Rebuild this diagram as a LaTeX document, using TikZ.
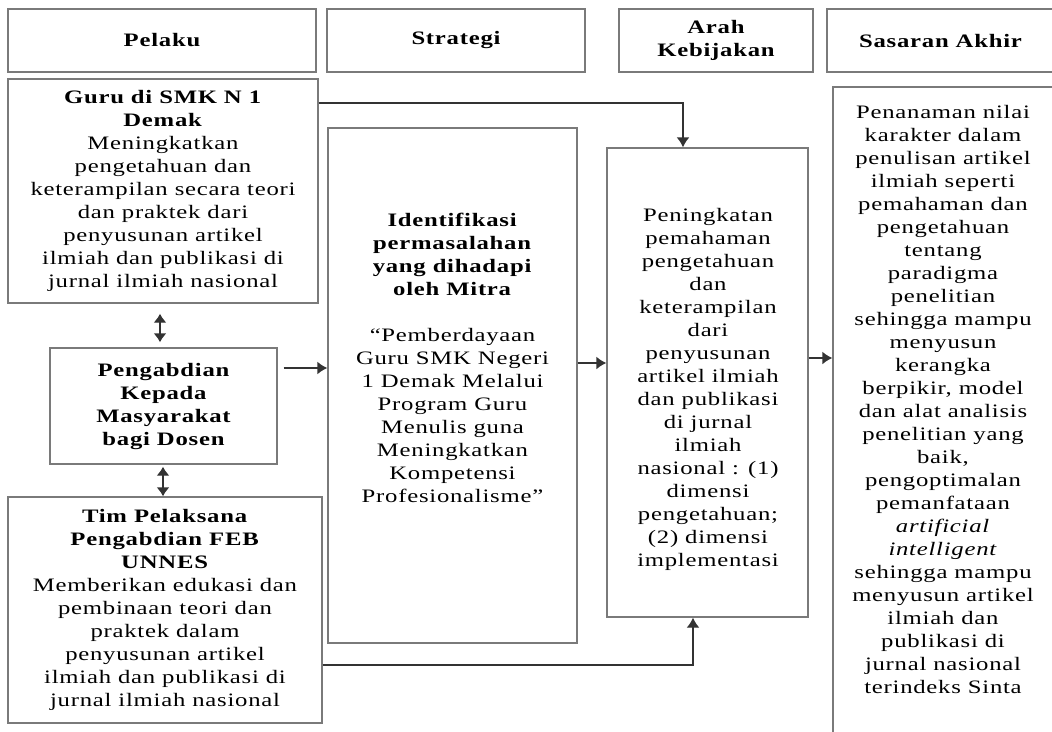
\documentclass[tikz,border=0pt]{standalone}
\usepackage{fontspec}
\setmainfont{Liberation Serif}[FakeStretch=1.3,LetterSpace=4]
\usetikzlibrary{arrows.meta}
\definecolor{boxgray}{HTML}{7A7A7A}
\newcommand\fsz{\fontsize{19}{23}\selectfont}
\begin{document}
\begin{tikzpicture}[x=1pt,y=-1pt,
  box/.style={draw=boxgray, line width=1.4pt, fill=white, inner sep=0pt, align=center, font=\fsz},
  hbox/.style={box, minimum height=63pt, font={\fsz\bfseries}},
  txt/.style={inner sep=0pt, align=center, font=\fsz},
  conn/.style={draw=black!80, line width=1.4pt},
  tip/.style={-{Latex[length=10pt,width=13pt]}},
  dtip/.style={{Latex[length=9pt,width=13pt]}-{Latex[length=9pt,width=13pt]}}
]
\useasboundingbox (0,0) rectangle (1052,731);
\clip (0,0) rectangle (1052,731);
\fill[white] (0,0) rectangle (1052,731);

% headers
\node[hbox, minimum width=308pt] (hpel) at (162,40.5) {Pelaku};
\node[hbox, minimum width=258pt] (hstr) at (456,40.5) {Strategi};
\node[hbox, minimum width=194pt] (harah) at (716,40.5) {Arah\\Kebijakan};
\node[hbox, minimum width=227pt] (hsas) at (940.5,40.5) {Sasaran Akhir};

% Pelaku column
\node[box, minimum width=310pt, minimum height=224pt] (guru) at (163,191)
  {\textbf{Guru di SMK N 1}\\\textbf{Demak}\\Meningkatkan\\pengetahuan dan\\keterampilan secara teori\\dan praktek dari\\penyusunan artikel\\ilmiah dan publikasi di\\jurnal ilmiah nasional};
\node[box, minimum width=227pt, minimum height=116pt, font={\fsz\bfseries}] (peng) at (163.5,406)
  {Pengabdian\\Kepada\\Masyarakat\\bagi Dosen};
\node[box, minimum width=314pt, minimum height=226pt] (tim) at (165,610)
  {\textbf{Tim Pelaksana}\\\textbf{Pengabdian FEB}\\\textbf{UNNES}\\Memberikan edukasi dan\\pembinaan teori dan\\praktek dalam\\penyusunan artikel\\ilmiah dan publikasi di\\jurnal ilmiah nasional};

% Strategi
\node[box, minimum width=249pt, minimum height=515pt] (ident) at (452.5,385.5) {};
\node[txt] (identtxt) at (452.5,357.5)
  {\textbf{Identifikasi}\\\textbf{permasalahan}\\\textbf{yang dihadapi}\\\textbf{oleh Mitra}\\[23pt]
   “Pemberdayaan\\Guru SMK Negeri\\1 Demak Melalui\\Program Guru\\Menulis guna\\Meningkatkan\\Kompetensi\\Profesionalisme”};

% Arah Kebijakan
\node[box, minimum width=201pt, minimum height=469pt] (pen) at (707.5,382.5) {};
\node[txt] (pentxt) at (708,389)
  {Peningkatan\\pemahaman\\pengetahuan\\dan\\keterampilan\\dari\\penyusunan\\artikel ilmiah\\dan publikasi\\di jurnal\\ilmiah\\nasional : (1)\\dimensi\\pengetahuan;\\(2) dimensi\\implementasi};

% Sasaran Akhir
\node[box, minimum width=223pt, minimum height=658pt] (sas) at (944.5,416) {};
\node[txt] (sastxt) at (943,399)
  {Penanaman nilai\\karakter dalam\\penulisan artikel\\ilmiah seperti\\pemahaman dan\\pengetahuan\\tentang\\paradigma\\penelitian\\sehingga mampu\\menyusun\\kerangka\\berpikir, model\\dan alat analisis\\penelitian yang\\baik,\\pengoptimalan\\pemanfataan\\\textit{artificial}\\\textit{intelligent}\\sehingga mampu\\menyusun artikel\\ilmiah dan\\publikasi di\\jurnal nasional\\terindeks Sinta};

% connectors
\coordinate (g1) at (683,103);
\draw[conn,tip] (guru.east |- g1) -| (g1 |- pen.north);
\coordinate (t1) at (693,665);
\draw[conn,tip] (tim.east |- t1) -| (t1 |- pen.south);
\coordinate (p1) at (0,368);
\draw[conn,tip,shorten <=6pt] (peng.east |- p1) -- (ident.west |- p1);
\coordinate (i1) at (0,363);
\draw[conn,tip] (ident.east |- i1) -- (pen.west |- i1);
\coordinate (s1) at (0,358);
\draw[conn,tip] (pen.east |- s1) -- (sas.west |- s1);
\coordinate (d1) at (160,0);
\draw[conn,dtip,shorten <=10pt,shorten >=5pt] (d1 |- guru.south) -- (d1 |- peng.north);
\coordinate (d2) at (163,0);
\draw[conn,dtip,shorten <=2pt] (d2 |- peng.south) -- (d2 |- tim.north);
\end{tikzpicture}
\end{document}
